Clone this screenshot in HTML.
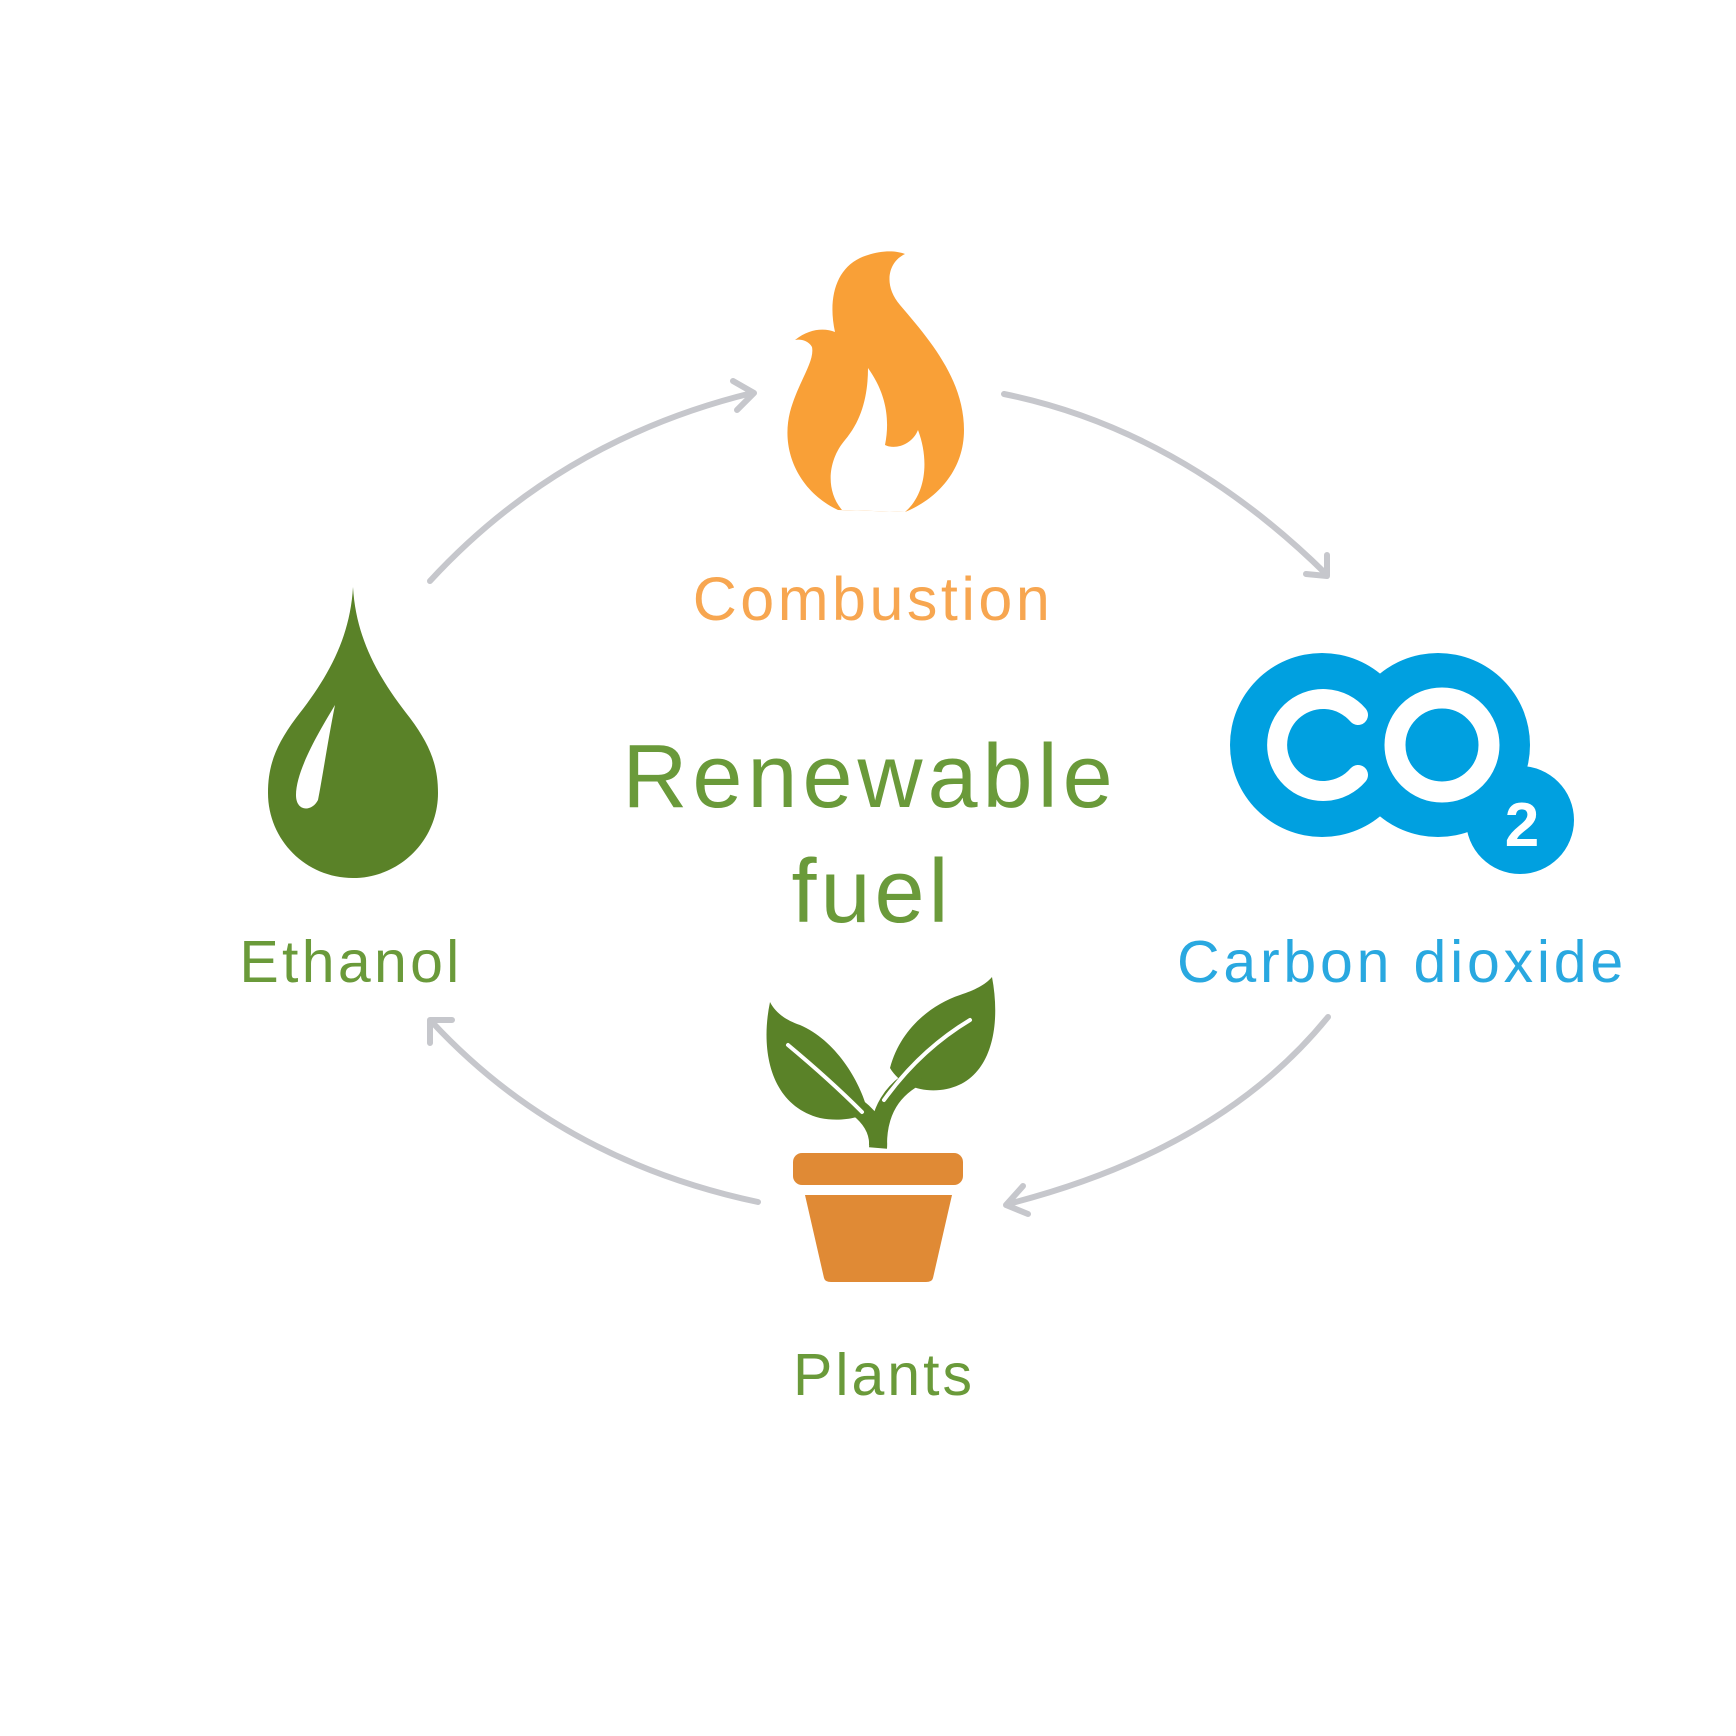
<!DOCTYPE html>
<html><head><meta charset="utf-8"><style>
html,body{margin:0;padding:0;background:#fff}
svg{display:block}
text{font-family:"Liberation Sans",sans-serif}
</style></head><body>
<svg width="1736" height="1736" viewBox="0 0 1736 1736" xmlns="http://www.w3.org/2000/svg">
<rect width="1736" height="1736" fill="#fff"/>
<g fill="none" stroke="#c6c7cc" stroke-width="6" stroke-linecap="round" stroke-linejoin="round">
<path d="M430 581 Q560 440 752 393"/>
<path d="M733 381 L754 393 L737 410"/>
<path d="M1004 394 Q1180 430 1326 574"/>
<path d="M1306 574 L1327 576 L1327 555"/>
<path d="M1328 1017 Q1220 1150 1008 1204"/>
<path d="M1023 1186 L1006 1205 L1028 1214"/>
<path d="M758 1202 Q560 1160 432 1022"/>
<path d="M430 1043 L430 1020 L452 1020"/>
</g>
<path fill="#f9a037" d="M838 510 C800 492 780 452 790 412 C798 382 815 362 812 347 C808 340 800 339 795 340 C810 328 825 328 835 332 C828 300 835 270 860 258 C878 250 895 250 905 254 C888 262 883 285 900 305 C930 340 964 380 964 430 C964 472 935 500 905 512 Z"/>
<path fill="#fff" d="M842 510 C825 490 828 460 845 440 C862 420 868 395 868 368 C880 385 892 410 885 445 C895 450 912 445 918 430 C930 462 925 495 905 512 Z"/>
<text x="873" y="620" font-size="61" letter-spacing="3.5" fill="#f7a650" text-anchor="middle">Combustion</text>
<path fill="#5a8228" d="M353 587 C356 640 380 680 410 718 C430 745 438 765 438 793 C438 840 400 878 353 878 C306 878 268 840 268 793 C268 765 276 745 296 718 C326 680 350 640 353 587 Z"/>
<path fill="#fff" d="M335 705 C320 730 296 770 296 795 C296 812 312 812 318 800 C322 780 328 740 335 705 Z"/>
<text x="351" y="982" font-size="59" letter-spacing="3.3" fill="#6a9a3a" text-anchor="middle">Ethanol</text>
<text x="870" y="807" font-size="90" letter-spacing="5" fill="#6a9a3a" text-anchor="middle">Renewable</text>
<text x="872" y="922" font-size="90" letter-spacing="4" fill="#6a9a3a" text-anchor="middle">fuel</text>
<g fill="#00a0e0">
<circle cx="1322" cy="745" r="92"/>
<circle cx="1438" cy="745" r="92"/>
<circle cx="1520" cy="820" r="54"/>
</g>
<path d="M1358 715 A46 46 0 1 0 1358 775" fill="none" stroke="#fff" stroke-width="20" stroke-linecap="round"/>
<circle cx="1442" cy="745" r="47" fill="none" stroke="#fff" stroke-width="21"/>
<text x="1522" y="846" font-size="62" font-weight="bold" fill="#fff" text-anchor="middle">2</text>
<text x="1402" y="982" font-size="59" letter-spacing="3.8" fill="#29a8e0" text-anchor="middle">Carbon dioxide</text>
<path fill="#5a8228" d="M770 1002 C760 1050 770 1105 820 1118 C840 1122 860 1118 868 1112 C860 1080 835 1040 800 1025 C785 1020 775 1012 770 1002 Z"/>
<path fill="#5a8228" d="M992 977 C1002 1030 990 1085 940 1090 C920 1092 900 1085 890 1068 C900 1030 930 1005 960 995 C975 990 985 985 992 977 Z"/>
<g fill="none" stroke="#5a8228" stroke-width="18">
<path d="M858 1108 Q880 1125 878 1148"/>
<path d="M878 1145 Q878 1095 920 1075"/>
</g>
<g fill="none" stroke="#fff" stroke-width="4" stroke-linecap="round">
<path d="M788 1045 Q830 1080 862 1112"/>
<path d="M970 1020 Q920 1050 884 1100"/>
</g>
<rect x="793" y="1153" width="170" height="32" rx="9" fill="#e08a35"/>
<path fill="#e08a35" d="M805 1195 L952 1195 L933 1278 Q932 1282 926 1282 L831 1282 Q825 1282 824 1278 Z"/>
<text x="884" y="1395" font-size="59" letter-spacing="3" fill="#6a9a3a" text-anchor="middle">Plants</text>
</svg>
</body></html>
